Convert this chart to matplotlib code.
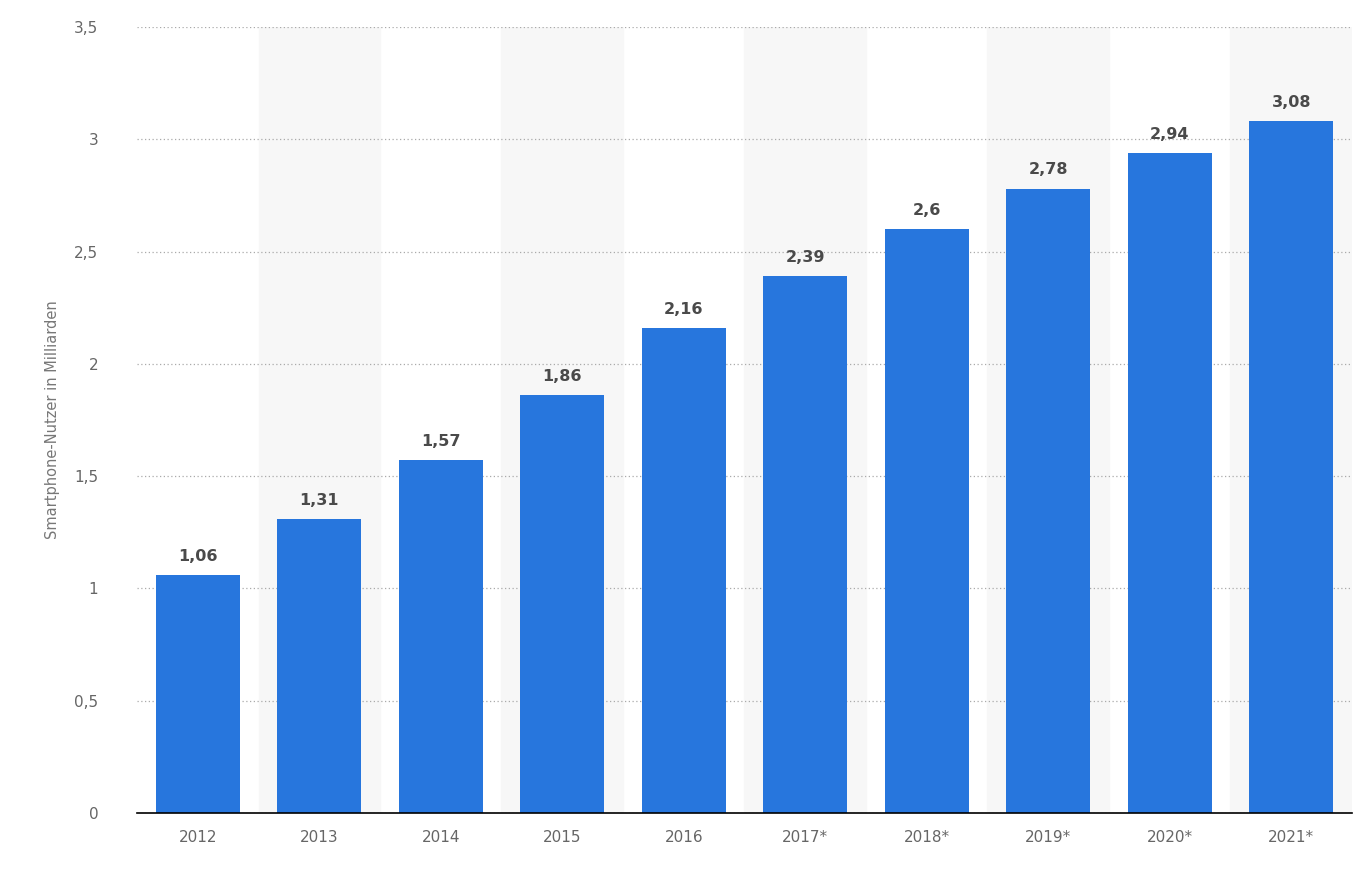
import matplotlib
matplotlib.use("Agg")
import matplotlib.pyplot as plt

years = ["2012", "2013", "2014", "2015", "2016", "2017*", "2018*", "2019*", "2020*", "2021*"]
values = [1.06, 1.31, 1.57, 1.86, 2.16, 2.39, 2.6, 2.78, 2.94, 3.08]
labels = ["1,06", "1,31", "1,57", "1,86", "2,16", "2,39", "2,6", "2,78", "2,94", "3,08"]
yticks = [0, 0.5, 1, 1.5, 2, 2.5, 3, 3.5]
ytick_labels = ["0", "0,5", "1", "1,5", "2", "2,5", "3", "3,5"]

fig = plt.figure(figsize=(13.62, 8.72), dpi=100)
ax = fig.add_axes([0.1006, 0.0677, 0.892, 0.9013])
x = range(len(years))
for i in x:
    if i % 2 == 1:
        ax.axvspan(i - 0.5, i + 0.5, color="#f7f7f7", zorder=0)
ax.bar(x, values, width=0.69, color="#2776dd", zorder=3)
for i, (v, l) in enumerate(zip(values, labels)):
    ax.text(i, v + 0.05, l, ha="center", va="bottom", fontsize=11.5,
            fontweight="bold", color="#4a4a4a", zorder=4)
ax.set_xlim(-0.5, len(years) - 0.5)
ax.set_ylim(0, 3.5)
ax.set_yticks(yticks)
ax.set_yticklabels(ytick_labels)
ax.set_xticks(list(x))
ax.set_xticklabels(years)
ax.tick_params(axis="both", length=0, labelsize=11, labelcolor="#666666")
ax.tick_params(axis="x", pad=12)
ax.tick_params(axis="y", pad=28)
ax.yaxis.grid(True, linestyle=(0, (1, 2)), color="#aaaaaa", linewidth=0.9, zorder=1)
for s in ["top", "right", "left"]:
    ax.spines[s].set_visible(False)
ax.spines["bottom"].set_color("#000000")
ax.spines["bottom"].set_linewidth(1.2)
ax.spines["bottom"].set_zorder(5)
ax.set_ylabel("Smartphone-Nutzer in Milliarden", fontsize=10.5, color="#777777", labelpad=10)
fig.savefig("out.png", dpi=100)
